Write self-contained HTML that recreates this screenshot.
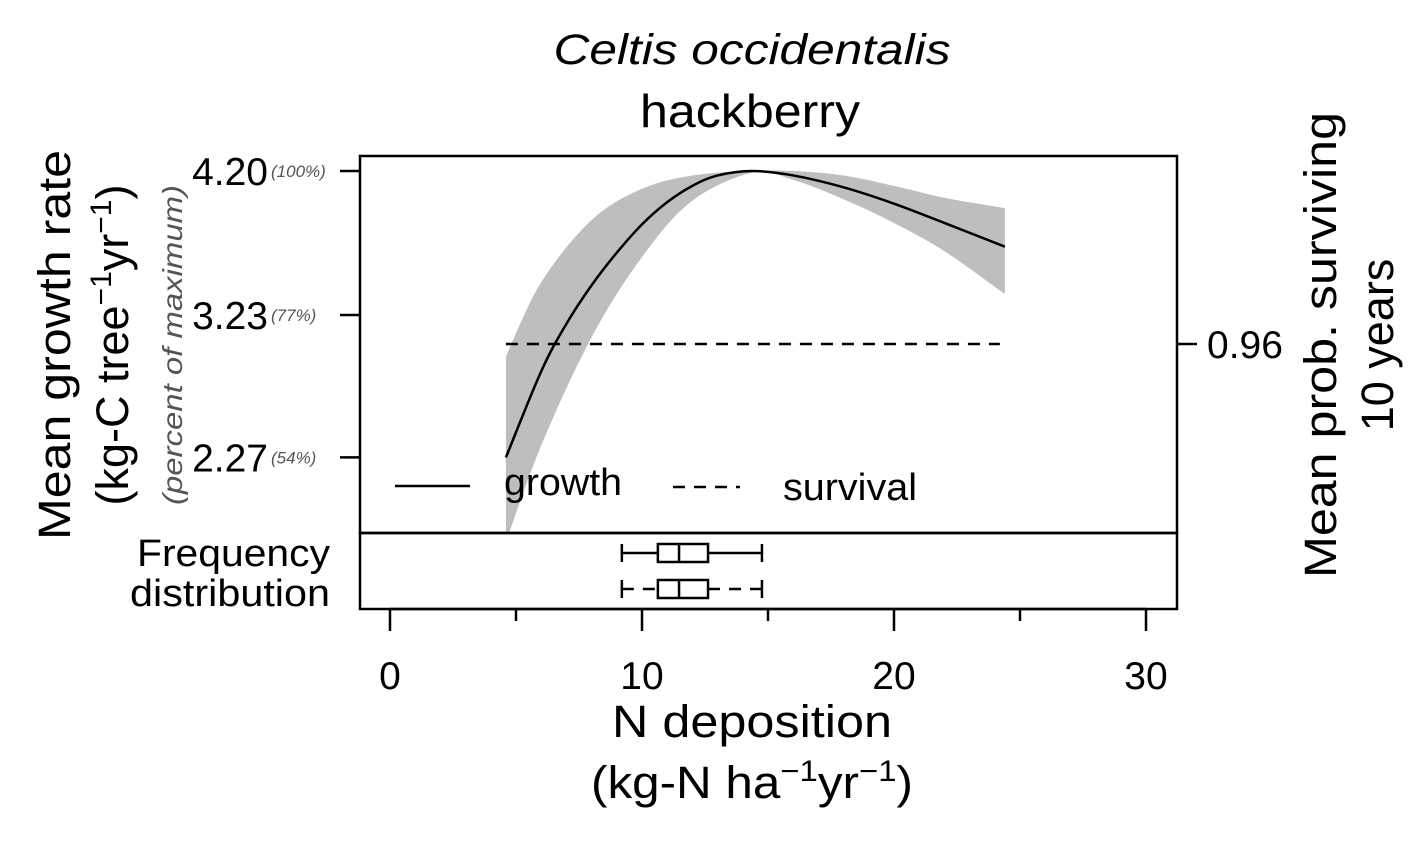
<!DOCTYPE html>
<html><head><meta charset="utf-8"><style>
body{margin:0;background:#fff;}
svg{display:block;font-family:"Liberation Sans",sans-serif;}
</style></head><body>
<svg id="c" width="1417" height="850" viewBox="0 0 1417 850">
<defs><clipPath id="clip"><rect x="360" y="156" width="817" height="377"/></clipPath></defs>
<text x="752" y="64" font-size="43" font-style="italic" text-anchor="middle" textLength="397" lengthAdjust="spacingAndGlyphs">Celtis occidentalis</text>
<text x="750" y="127" font-size="46" text-anchor="middle" textLength="220" lengthAdjust="spacingAndGlyphs">hackberry</text>
<g id="plot"></g>
<rect x="360" y="156" width="817" height="377" fill="none" stroke="#000" stroke-width="2.5"/>
<rect x="360" y="533" width="817" height="76" fill="none" stroke="#000" stroke-width="2.5"/>
<text x="330" y="566" font-size="38" text-anchor="end" textLength="193" lengthAdjust="spacingAndGlyphs">Frequency</text>
<text x="330" y="606" font-size="38" text-anchor="end" textLength="200" lengthAdjust="spacingAndGlyphs">distribution</text>
<g>
<line x1="395" y1="486" x2="470" y2="486" stroke="#000" stroke-width="2.5"/>
<text x="504" y="495" font-size="38" textLength="118" lengthAdjust="spacingAndGlyphs">growth</text>
<line x1="673" y1="487" x2="740" y2="487" stroke="#000" stroke-width="2.5" stroke-dasharray="12,9"/>
<text x="783" y="500" font-size="38" textLength="134" lengthAdjust="spacingAndGlyphs">survival</text>
</g>
<g transform="translate(70,345) rotate(-90)"><text x="0" y="0" font-size="45" text-anchor="middle" textLength="390" lengthAdjust="spacingAndGlyphs">Mean growth rate</text></g>
<g transform="translate(128,345) rotate(-90)"><text x="0" y="0" font-size="45" text-anchor="middle">(kg-C tree<tspan dy="-17" font-size="30">−1</tspan><tspan dy="17">yr</tspan><tspan dy="-17" font-size="30">−1</tspan><tspan dy="17">)</tspan></text></g>
<g transform="translate(182,345) rotate(-90)"><text x="0" y="0" font-size="28" font-style="italic" fill="#555" text-anchor="middle" textLength="320" lengthAdjust="spacingAndGlyphs">(percent of maximum)</text></g>
<g transform="translate(1336,345) rotate(-90)"><text x="0" y="0" font-size="45" text-anchor="middle" textLength="466" lengthAdjust="spacingAndGlyphs">Mean prob. surviving</text></g>
<g transform="translate(1393,345) rotate(-90)"><text x="0" y="0" font-size="45" text-anchor="middle">10 years</text></g>
<text x="752" y="737" font-size="45" text-anchor="middle" textLength="280" lengthAdjust="spacingAndGlyphs">N deposition</text>
<text x="752" y="798" font-size="45" text-anchor="middle" textLength="322" lengthAdjust="spacingAndGlyphs">(kg-N ha<tspan dy="-17" font-size="30">−1</tspan><tspan dy="17">yr</tspan><tspan dy="-17" font-size="30">−1</tspan><tspan dy="17">)</tspan></text>
</svg>
<script>
const xTicks=[0,10,20,30];
const xMinor=[5,15,25];
const yTicks=[4.20,3.23,2.27];
const yPct=["(100%)","(77%)","(54%)"];
const growthX=[4.6,6,7,8,9,10,11,12,13,14.4,16,18,20,22,24.4];
const growthY=[2.27,2.85,3.17,3.43,3.65,3.84,3.99,4.10,4.17,4.20,4.17,4.09,3.98,3.85,3.69];
const bandX=[4.6,6,8,10,12,14.4,16,18,20,22,24.4];
const bandLo=[1.70,2.35,3.08,3.62,4.00,4.19,4.14,4.01,3.85,3.66,3.37];
const bandHi=[2.95,3.45,3.87,4.08,4.17,4.20,4.20,4.17,4.10,4.02,3.95];
const survival=0.96;
const survivalRange=[4.6,24.2];
const boxStats=[9.2,10.63,11.47,12.62,14.76];
const sx=v=>390+v*25.2;
const gy=v=>171+(4.20-v)*148.4;
const sy=v=>344;
const svg=document.getElementById('c');
const plot=document.getElementById('plot');
const NS='http://www.w3.org/2000/svg';
function mk(t,a,p){const e=document.createElementNS(NS,t);for(const k in a)e.setAttribute(k,a[k]);(p||svg).appendChild(e);return e;}
function spline(pts,start){let d=start?'M'+pts[0][0]+','+pts[0][1]:'L'+pts[0][0]+','+pts[0][1];
for(let i=0;i<pts.length-1;i++){const p0=pts[Math.max(i-1,0)],p1=pts[i],p2=pts[i+1],p3=pts[Math.min(i+2,pts.length-1)];
d+='C'+(p1[0]+(p2[0]-p0[0])/6)+','+(p1[1]+(p2[1]-p0[1])/6)+' '+(p2[0]-(p3[0]-p1[0])/6)+','+(p2[1]-(p3[1]-p1[1])/6)+' '+p2[0]+','+p2[1];}
return d;}
const g=mk('g',{'clip-path':'url(#clip)'},plot);
const hiPts=bandX.map((x,i)=>[sx(x),gy(bandHi[i])]);
const loPts=bandX.map((x,i)=>[sx(x),gy(bandLo[i])]).reverse();
const band=mk('path',{d:spline(hiPts,true)+spline(loPts,false)+'Z',fill:'#bebebe'},g);


const gl=mk('path',{d:spline(growthX.map((x,i)=>[sx(x),gy(growthY[i])]),true),fill:'none',stroke:'#000','stroke-width':2.5},g);


const sl=mk('line',{x1:sx(survivalRange[0]),x2:sx(survivalRange[1]),y1:sy(survival),y2:sy(survival),stroke:'#000','stroke-width':2.5,'stroke-dasharray':'12,9'},g);


mk('line',{x1:sx(0),x2:sx(30),y1:609,y2:609,stroke:'#000','stroke-width':2.5});
xTicks.forEach(v=>{mk('line',{x1:sx(v),x2:sx(v),y1:609,y2:631,stroke:'#000','stroke-width':2.5});
const t=mk('text',{x:sx(v),y:689,'font-size':39,'text-anchor':'middle'});t.textContent=v;

});
xMinor.forEach(v=>mk('line',{x1:sx(v),x2:sx(v),y1:609,y2:621,stroke:'#000','stroke-width':2.5}));
yTicks.forEach((v,i)=>{mk('line',{x1:340,x2:360,y1:gy(v),y2:gy(v),stroke:'#000','stroke-width':2.5});
const t=mk('text',{x:268,y:gy(v)+14,'font-size':39,'text-anchor':'end'});t.textContent=v.toFixed(2);


const p=mk('text',{x:271,y:gy(v)+6,'font-size':17,'font-style':'italic',fill:'#555'});p.textContent=yPct[i];

});
mk('line',{x1:1177,x2:1197,y1:sy(survival),y2:sy(survival),stroke:'#000','stroke-width':2.5});
const rt=mk('text',{x:1207,y:sy(survival)+14,'font-size':39});rt.textContent=survival.toFixed(2);


[[553,false],[589,true]].forEach(([cy,dash])=>{
const bg=mk('g',{stroke:'#000','stroke-width':2.5,fill:'none'});


const da=dash?{'stroke-dasharray':'12,9'}:{};
mk('line',Object.assign({x1:sx(boxStats[0]),x2:sx(boxStats[1]),y1:cy,y2:cy},da),bg);
mk('line',Object.assign({x1:sx(boxStats[3]),x2:sx(boxStats[4]),y1:cy,y2:cy},da),bg);
mk('line',{x1:sx(boxStats[0]),x2:sx(boxStats[0]),y1:cy-9,y2:cy+9},bg);
mk('line',{x1:sx(boxStats[4]),x2:sx(boxStats[4]),y1:cy-9,y2:cy+9},bg);
mk('rect',{x:sx(boxStats[1]),y:cy-9,width:sx(boxStats[3])-sx(boxStats[1]),height:18},bg);
mk('line',{x1:sx(boxStats[2]),x2:sx(boxStats[2]),y1:cy-9,y2:cy+9},bg);
});
</script>
</body></html>
